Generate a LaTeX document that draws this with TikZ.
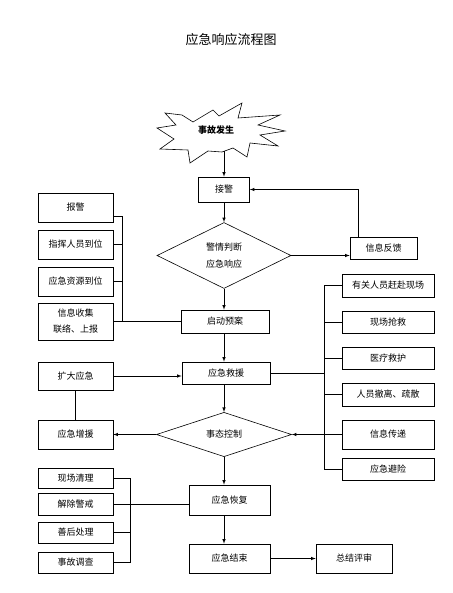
\documentclass[tikz,border=0pt]{standalone}
\usepackage{fontspec}
\newfontfamily\cjk{Noto Sans CJK SC}
\usepackage{tikz}
\usetikzlibrary{arrows,shapes}

\tikzset{
  box/.style={draw=black, line width=0.6pt, fill=white, inner sep=1pt, align=center,
    font=\cjk\fontsize{9}{16}\selectfont},
  decision/.style={diamond, draw=black, line width=0.6pt, inner sep=0pt, align=center,
    font=\cjk\fontsize{9}{17}\selectfont},
  link/.style={line width=0.6pt},
  flow/.style={line width=0.6pt, ->, >=latex}
}

\begin{document}
\begin{tikzpicture}[x=1pt, y=-1pt]
    \useasboundingbox (0,0) rectangle (452,593);
    \node[font=\cjk\fontsize{13}{15}\selectfont] (title) at (231,40) {应急响应流程图};

    \draw[link] (182,115) -- (193,122) -- (213,110) -- (219,116) -- (242,103) -- (238,118)
      -- (280,115) -- (258,125) -- (285,131) -- (260,135) -- (278,146) -- (250,143)
      -- (247,157) -- (233,148) -- (222,152) -- (208,151) -- (190,163) -- (188,150)
      -- (160,149) -- (174,139) -- (157,128) -- (176,125) -- (165,113) -- cycle;
    \node[font=\cjk\bfseries\fontsize{9}{10}\selectfont] (star) at (216,130) {事故发生};
    \coordinate (starbot) at (224,151);

    \node[box, minimum width=51pt, minimum height=25pt] (jj) at (224,189.5) {接警};
    \node[decision, minimum width=134pt, minimum height=66pt] (pd) at (224,255.5) {警情判断\\应急响应};
    \node[box, minimum width=67pt, minimum height=22pt] (fk) at (383.5,248) {信息反馈};
    \node[box, minimum width=88pt, minimum height=23pt] (qd) at (225,321.5) {启动预案};
    \node[box, minimum width=88pt, minimum height=22pt] (jy) at (226,373) {应急救援};
    \node[decision, minimum width=135pt, minimum height=43pt] (kz) at (224,434.5) {事态控制};
    \node[box, minimum width=81pt, minimum height=30pt] (hf) at (229.5,500) {应急恢复};
    \node[box, minimum width=81pt, minimum height=29pt] (js) at (229.5,558.5) {应急结束};
    \node[box, minimum width=76pt, minimum height=29pt] (zj) at (354,558.5) {总结评审};

    \node[box, minimum width=75pt, minimum height=29pt] (bj) at (75.5,207.5) {报警};
    \node[box, minimum width=75pt, minimum height=29pt] (zh) at (75.5,244.5) {指挥人员到位};
    \node[box, minimum width=75pt, minimum height=29pt] (zy) at (75.5,281.5) {应急资源到位};
    \node[box, minimum width=75pt, minimum height=37pt] (xx) at (75.5,321.5) {信息收集\\联络、上报};
    \node[box, minimum width=75pt, minimum height=28pt] (kd) at (75.5,376) {扩大应急};
    \node[box, minimum width=75pt, minimum height=29pt] (zz) at (75.5,434.5) {应急增援};
    \node[box, minimum width=75pt, minimum height=20pt] (xc) at (75.5,478) {现场清理};
    \node[box, minimum width=75pt, minimum height=22pt] (jc) at (75.5,504) {解除警戒};
    \node[box, minimum width=75pt, minimum height=21pt] (sh) at (75.5,532.5) {善后处理};
    \node[box, minimum width=75pt, minimum height=21pt] (dc) at (75.5,562.5) {事故调查};

    \node[box, minimum width=92pt, minimum height=23pt] (r1) at (388,285.5) {有关人员赶赴现场};
    \node[box, minimum width=92pt, minimum height=22pt] (r2) at (388,322) {现场抢救};
    \node[box, minimum width=92pt, minimum height=22pt] (r3) at (388,358) {医疗救护};
    \node[box, minimum width=92pt, minimum height=23pt] (r4) at (388,394.5) {人员撤离、疏散};
    \node[box, minimum width=92pt, minimum height=29pt] (r5) at (388,434.5) {信息传递};
    \node[box, minimum width=92pt, minimum height=22pt] (r6) at (388,469) {应急避险};

    \coordinate (lb) at (122,216);
    \coordinate (rb) at (324,285.5);
    \coordinate (bb) at (130,478);

    \draw[flow] (starbot) -- (jj.north);
    \draw[flow] (jj.south) -- (pd.north);
    \draw[flow] (pd.east) -- (pd.east -| fk.west);
    \draw[flow] ([xshift=-25pt]fk.north) |- (jj.east);
    \draw[flow] (pd.south) -- (pd.south |- qd.north);
    \draw[flow] (qd.south -| pd.south) -- (pd.south |- jy.north);
    \draw[flow] (jy.south -| pd.south) -- (kz.north);
    \draw[flow] (kz.south) -- (kz.south |- hf.north);
    \draw[flow] (kz.south |- hf.south) -- (kz.south |- js.north);
    \draw[flow] (js.east) -- (zj.west);

    \draw[link] ([yshift=-8.5pt]bj.east) -- (lb) -- (lb |- xx.east);
    \draw[link] (zh.east) -- (zh.east -| lb);
    \draw[link] (zy.east) -- (zy.east -| lb);
    \draw[link] (xx.east) -- (qd.west);

    \draw[flow] (kd.east) -- (kd.east -| jy.west);
    \draw[link] (kd.south) -- (zz.north);
    \draw[flow] (kz.west) -- (zz.east);

    \draw[link] (r1.west) -- (rb) -- (rb |- r6.west) -- (r6.west);
    \draw[link] (r2.west) -- (r2.west -| rb);
    \draw[link] (r3.west) -- (r3.west -| rb);
    \draw[link] (r4.west) -- (r4.west -| rb);
    \draw[link] (jy.east) -- (jy.east -| rb);
    \draw[flow] (r5.west) -- (kz.east);

    \draw[link] (xc.east) -- (bb) -- (bb |- dc.east) -- (dc.east);
    \draw[link] (sh.east) -- (sh.east -| bb);
    \draw[link] (jc.east) -- (jc.east -| hf.west);
\end{tikzpicture}
\end{document}
